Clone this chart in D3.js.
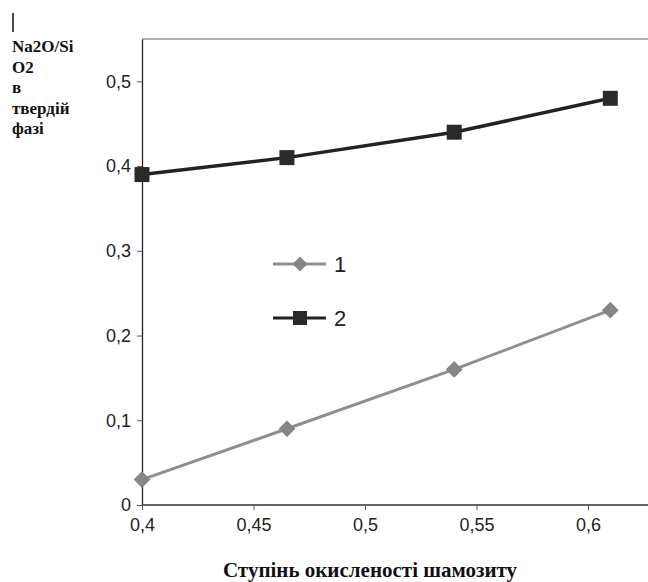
<!DOCTYPE html>
<html>
<head>
<meta charset="utf-8"/>
<script src="https://d3js.org/d3.v7.min.js"></script>
<style>
  body { margin: 0; background: #fff; }
</style>
</head>
<body>
<div id="v"></div>
<script type="text/javascript">
// data
var xs = [0.4, 0.465, 0.54, 0.61];
var series1 = [0.03, 0.09, 0.16, 0.23];   // grey diamonds
var series2 = [0.39, 0.41, 0.44, 0.48];   // black squares
var seriesNames = ["1", "2"];
var xTicks = [0.4, 0.45, 0.5, 0.55, 0.6];
var yTicks = [0, 0.1, 0.2, 0.3, 0.4, 0.5];
var yLabelLines = ["Na2O/Si", "O2", "в", "твердій", "фазі"];
var xTitle = "Ступінь окисленості шамозиту";

(function() {
  var width = 648, height = 582;
  var svg = d3.select("#v").append("svg")
    .attr("width", width)
    .attr("height", height);

  var x = d3.scaleLinear().domain([0.4, 0.6]).range([142, 588]);
  var y = d3.scaleLinear().domain([0, 0.55]).range([505, 39]);
  var comma = function(d) { return String(d).replace(".", ","); };

  // frame: top border in grey, running off the right edge
  svg.append("line")
    .attr("x1", x(0.4)).attr("x2", width + 5)
    .attr("y1", y(0.55)).attr("y2", y(0.55))
    .attr("stroke", "#9a9a9a").attr("stroke-width", 1.5);

  var yAxis = svg.append("g")
    .attr("transform", "translate(" + x(0.4) + ",0)")
    .call(d3.axisLeft(y).tickValues(yTicks).tickFormat(comma).tickSize(5).tickPadding(6).tickSizeOuter(0));
  yAxis.select(".domain").attr("stroke", "#222").attr("stroke-width", 1.3);
  yAxis.selectAll(".tick line").attr("stroke", "#555");
  yAxis.selectAll("text")
    .attr("font-family", "Liberation Sans, Arial, sans-serif")
    .attr("font-size", 18).attr("fill", "#222");

  var xAxis = svg.append("g")
    .attr("transform", "translate(0," + y(0) + ")")
    .call(d3.axisBottom(x).tickValues(xTicks).tickFormat(comma).tickSize(5).tickPadding(8).tickSizeOuter(0));
  xAxis.select(".domain").attr("stroke", "#333").attr("stroke-width", 1.3)
    .attr("d", "M" + x(0.4) + ",0H" + (width + 5));
  xAxis.selectAll(".tick line").attr("stroke", "#555");
  xAxis.selectAll("text")
    .attr("font-family", "Liberation Sans, Arial, sans-serif")
    .attr("font-size", 18).attr("fill", "#222");

  var line = d3.line()
    .x(function(d) { return x(d[0]); })
    .y(function(d) { return y(d[1]); });

  var data1 = xs.map(function(v, i) { return [v, series1[i]]; });
  var data2 = xs.map(function(v, i) { return [v, series2[i]]; });

  // series 1 - grey with diamonds
  svg.append("path").datum(data1)
    .attr("d", line).attr("fill", "none")
    .attr("stroke", "#8f8f8f").attr("stroke-width", 3);
  svg.selectAll(".d1").data(data1).enter()
    .append("path").attr("class", "d1")
    .attr("d", d3.symbol().type(d3.symbolSquare).size(140))
    .attr("transform", function(d) { return "translate(" + x(d[0]) + "," + y(d[1]) + ") rotate(45)"; })
    .attr("fill", "#858585");

  // series 2 - black with squares
  svg.append("path").datum(data2)
    .attr("d", line).attr("fill", "none")
    .attr("stroke", "#222").attr("stroke-width", 3.5);
  svg.selectAll(".d2").data(data2).enter()
    .append("rect").attr("class", "d2")
    .attr("x", function(d) { return x(d[0]) - 7.5; })
    .attr("y", function(d) { return y(d[1]) - 7.5; })
    .attr("width", 15).attr("height", 15)
    .attr("fill", "#2a2a2a");

  // legend
  var lg = svg.append("g").attr("transform", "translate(273,264)");
  [0, 1].forEach(function(i) {
    var g = lg.append("g").attr("transform", "translate(0," + (i * 54) + ")");
    g.append("line").attr("x1", 0).attr("x2", 53).attr("y1", 0).attr("y2", 0)
      .attr("stroke", i === 0 ? "#8f8f8f" : "#222").attr("stroke-width", 3);
    if (i === 0) {
      g.append("path")
        .attr("d", d3.symbol().type(d3.symbolSquare).size(110))
        .attr("transform", "translate(27,0) rotate(45)")
        .attr("fill", "#858585");
    } else {
      g.append("rect").attr("x", 20).attr("y", -7).attr("width", 14).attr("height", 14)
        .attr("fill", "#2a2a2a");
    }
    g.append("text").attr("x", 61).attr("y", 8)
      .attr("font-family", "Liberation Sans, Arial, sans-serif")
      .attr("font-size", 22).attr("fill", "#222")
      .text(seriesNames[i]);
  });

  // y label (stacked, bold serif)
  svg.append("line").attr("x1", 13).attr("x2", 13).attr("y1", 13).attr("y2", 32)
    .attr("stroke", "#111").attr("stroke-width", 1.5);
  svg.append("g").selectAll("text").data(yLabelLines).enter()
    .append("text")
    .attr("x", 12)
    .attr("y", function(d, i) { return 52 + i * 20.5; })
    .attr("font-family", "Liberation Serif, Times New Roman, serif")
    .attr("font-weight", "bold").attr("font-size", 17).attr("fill", "#111")
    .text(function(d) { return d; });

  // x title
  svg.append("text")
    .attr("x", 370).attr("y", 577)
    .attr("text-anchor", "middle")
    .attr("font-family", "Liberation Serif, Times New Roman, serif")
    .attr("font-weight", "bold").attr("font-size", 21).attr("fill", "#111")
    .text(xTitle);
})();
</script>
</body>
</html>
